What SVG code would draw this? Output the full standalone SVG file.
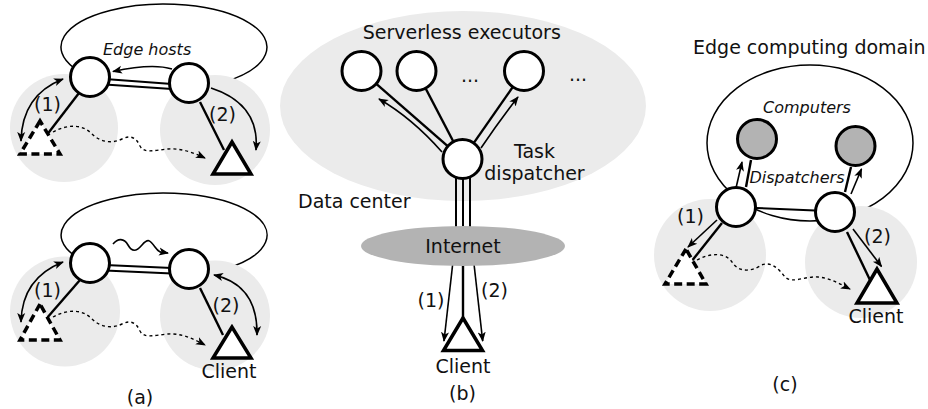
<svg xmlns="http://www.w3.org/2000/svg" width="928" height="409" viewBox="0 0 928 409">
<defs>
<marker id="ah" viewBox="0 0 10 10" refX="9" refY="5" markerWidth="10" markerHeight="10" markerUnits="userSpaceOnUse" orient="auto-start-reverse">
<path d="M0,1 L10,5 L0,9 L2.5,5 z" fill="#000"/>
</marker>
<style>
.bg{fill:#ebebeb;stroke:none}
.outline{fill:none;stroke:#000;stroke-width:1.5}
.node{fill:#fff;stroke:#000;stroke-width:3}
.gnode{fill:#b3b3b3;stroke:#000;stroke-width:3}
.link{fill:none;stroke:#000;stroke-width:2.4}
.dbl{fill:none;stroke:#000;stroke-width:2}
.arr{fill:none;stroke:#000;stroke-width:1.6;marker-end:url(#ah)}
.arr2{fill:none;stroke:#000;stroke-width:1.6;marker-end:url(#ah);marker-start:url(#ah)}
.dot{fill:none;stroke:#000;stroke-width:1.4;stroke-dasharray:3 3;marker-end:url(#ah)}
.tri{fill:#fff;stroke:#000;stroke-width:3.5;stroke-linejoin:miter}
.trid{fill:#fff;stroke:#000;stroke-width:3.5;stroke-dasharray:8 4.5}
text{font-family:"DejaVu Sans","Liberation Sans",sans-serif;font-size:19px;fill:#111}
.it{font-style:italic;font-size:16px}
.mid{text-anchor:middle}
</style>
</defs>

<!-- ===== Panel (a) top ===== -->
<g id="a-top-backdrop">
<path class="outline" d="M 74 68 A 103 43 0 1 1 225 81.7"/>
<circle class="bg" cx="64" cy="128" r="54"/>
<circle class="bg" cx="215" cy="130" r="55"/>
</g>
<g id="a-top-connectors">
<line class="dbl" x1="105" y1="79" x2="172" y2="84"/>
<line class="dbl" x1="105" y1="84.5" x2="172" y2="89"/>
<path class="arr" d="M 172 69 Q 152 63 113 71.5"/>
<line class="link" x1="79" y1="93" x2="46" y2="136"/>
<line class="link" x1="200" y1="102" x2="224" y2="150"/>
<path class="arr2" d="M 63 79 Q 22 95 21 141"/>
<path class="arr" d="M 211 88 Q 260 104 256 150"/>
<path class="dot" d="M 53 132 C 68 124, 82 124, 92 134 C 100 142, 112 144, 122 139 C 130 135, 136 137, 140 146 C 144 154, 155 150, 168 149 C 180 148, 192 152, 205 158"/>
</g>
<g id="a-top-host1"><circle class="node" cx="90" cy="77" r="19.5"/></g>
<g id="a-top-host2"><circle class="node" cx="189" cy="83" r="19.5"/></g>
<g id="a-top-client-old"><polygon class="trid" points="40,121 20,154 60,154"/></g>
<g id="a-top-client"><polygon class="tri" points="232,142 213,174 251,174"/></g>
<text class="it" x="103" y="55">Edge hosts</text>
<text class="mid" x="47.5" y="111">(1)</text>
<text class="mid" x="222.5" y="121">(2)</text>

<!-- ===== Panel (a) bottom ===== -->
<g id="a-bot-backdrop">
<path class="outline" d="M 74 255.4 A 103 42 0 1 1 225 268.9"/>
<circle class="bg" cx="65" cy="311.5" r="55"/>
<circle class="bg" cx="215" cy="315.5" r="55"/>
</g>
<g id="a-bot-connectors">
<line class="dbl" x1="105" y1="265" x2="172" y2="268"/>
<line class="dbl" x1="105" y1="270.5" x2="172" y2="273.5"/>
<path class="arr" d="M 113 244 C 118 238, 124 238, 128 245 S 136 252, 142 245 S 150 240, 155 247 S 162 252, 168 253"/>
<line class="link" x1="80" y1="280" x2="46.5" y2="318.5"/>
<line class="link" x1="200" y1="288" x2="223" y2="335"/>
<path class="arr2" d="M 63 262 Q 22 278 21 322"/>
<path class="arr2" d="M 214 275 Q 258 285 257 335"/>
<path class="dot" d="M 53 317 C 68 309, 82 309, 92 319 C 100 327, 112 329, 122 324 C 130 320, 136 322, 140 331 C 144 339, 155 335, 168 334 C 180 333, 192 338, 205 345"/>
</g>
<g id="a-bot-host1"><circle class="node" cx="90" cy="263" r="19.5"/></g>
<g id="a-bot-host2"><circle class="node" cx="189" cy="269" r="19.5"/></g>
<g id="a-bot-client-old"><polygon class="trid" points="40,304 20,340 60,340"/></g>
<g id="a-bot-client"><polygon class="tri" points="232,327 213,358 251,358"/></g>
<text class="mid" x="47.5" y="297">(1)</text>
<text class="mid" x="226" y="311.5">(2)</text>
<text class="mid" x="229" y="378">Client</text>
<text class="mid" x="140" y="404">(a)</text>

<!-- ===== Panel (b) ===== -->
<g id="b-datacenter"><ellipse class="bg" cx="463" cy="106" rx="183" ry="95"/></g>
<g id="b-connectors">
<line class="link" x1="447.4" y1="145.9" x2="376.6" y2="84.1"/>
<line class="link" x1="453.2" y1="141.3" x2="425.8" y2="88.7"/>
<line class="link" x1="474" y1="142.6" x2="512.5" y2="87.4"/>
<path class="arr" d="M 442 152 Q 412 118 379 99"/>
<path class="arr" d="M 481 148 Q 500 120 518 97"/>
<line class="dbl" x1="456" y1="176" x2="456" y2="232"/>
<line class="dbl" x1="463" y1="178" x2="463" y2="232"/>
<line class="dbl" x1="470" y1="176" x2="470" y2="232"/>
<line class="link" x1="463" y1="262" x2="463" y2="319"/>
<line class="arr" x1="452.7" y1="264" x2="444" y2="341"/>
<line class="arr" x1="474" y1="264" x2="482.7" y2="341"/>
</g>
<g id="b-internet">
<ellipse cx="463" cy="246" rx="102" ry="20" fill="#b3b3b3"/>
<text class="mid" x="463" y="253">Internet</text>
</g>
<g id="b-exec1"><circle class="node" cx="361.5" cy="71" r="19.5"/></g>
<g id="b-exec2"><circle class="node" cx="416.5" cy="71" r="19.5"/></g>
<g id="b-exec3"><circle class="node" cx="524" cy="71" r="19.5"/></g>
<g id="b-dispatcher"><circle class="node" cx="462.5" cy="159" r="19.5"/></g>
<g id="b-client"><polygon class="tri" points="463,318 443.5,350.5 482.5,350.5"/></g>
<text x="362.7" y="39">Serverless executors</text>
<text class="mid" x="470" y="82">...</text>
<text class="mid" x="578" y="81">...</text>
<text class="mid" x="534.5" y="158">Task</text>
<text class="mid" x="534.5" y="179.5">dispatcher</text>
<text x="298" y="208">Data center</text>
<text class="mid" x="431" y="307">(1)</text>
<text class="mid" x="494.5" y="297">(2)</text>
<text class="mid" x="463" y="373">Client</text>
<text class="mid" x="462.5" y="400">(b)</text>

<!-- ===== Panel (c) ===== -->
<g id="c-domain">
<ellipse class="outline" cx="810" cy="143" rx="103" ry="78"/>
<circle class="bg" cx="710" cy="255" r="56"/>
<circle class="bg" cx="861" cy="262" r="56"/>
</g>
<g id="c-connectors">
<line class="dbl" x1="756" y1="208" x2="815" y2="210.5"/>
<line class="link" x1="746" y1="187" x2="751" y2="160"/>
<line class="arr" x1="736" y1="188" x2="742" y2="162"/>
<line class="link" x1="845" y1="192" x2="851" y2="167"/>
<line class="arr" x1="851" y1="194" x2="861.5" y2="169"/>
<line class="link" x1="722" y1="223" x2="691" y2="262"/>
<line class="arr" x1="717" y1="220" x2="688" y2="247"/>
<line class="link" x1="847" y1="232" x2="870" y2="280"/>
<line class="arr" x1="853" y1="229" x2="881.5" y2="266.5"/>
<path class="dot" d="M 697 260 C 710 253, 725 252, 732 262 C 738 272, 750 272, 760 266 C 770 260, 778 268, 785 277 C 792 284, 805 276, 818 277 C 830 278, 840 284, 850 289"/>
</g>
<g id="c-computer1"><circle class="gnode" cx="757" cy="139" r="19.5"/></g>
<g id="c-computer2"><circle class="gnode" cx="855.5" cy="146" r="19.5"/></g>
<g id="c-dispatcher1"><circle class="node" cx="736" cy="207" r="19.5"/></g>
<g id="c-dispatcher2"><circle class="node" cx="835" cy="212" r="19.5"/></g>
<g id="c-client-old"><polygon class="trid" points="686,249 665,284 706,284"/></g>
<g id="c-client"><polygon class="tri" points="877,269 857,303 897,303"/></g>
<text x="693" y="54">Edge computing domain</text>
<text class="it mid" x="807" y="113">Computers</text>
<text class="it mid" x="797" y="183">Dispatchers</text>
<text class="mid" x="690.5" y="223">(1)</text>
<text class="mid" x="877.5" y="243">(2)</text>
<text class="mid" x="876" y="323">Client</text>
<text class="mid" x="785" y="391">(c)</text>
</svg>
